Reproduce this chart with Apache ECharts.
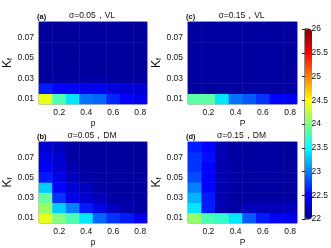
<!DOCTYPE html>
<html>
<head>
<meta charset="utf-8">
<script src="https://cdn.jsdelivr.net/npm/echarts@6/dist/echarts.min.js"></script>
<style>
html, body { margin: 0; padding: 0; background: #fff; }
#chart { width: 331px; height: 248px; }
</style>
</head>
<body>
<div id="chart"></div>
<script>
var pValues = ['0.1', '0.2', '0.3', '0.4', '0.5', '0.6', '0.7', '0.8'];
var kfValues = ['0.01', '0.02', '0.03', '0.04', '0.05', '0.06', '0.07', '0.08'];
var xTickLabels = ['0.2', '0.4', '0.6', '0.8'];
var yTickLabels = ['0.01', '0.03', '0.05', '0.07'];
var colorMin = 22, colorMax = 26, colorStep = 0.5;

var panelTags = ['(a)', '(c)', '(b)', '(d)'];
var panelTitles = ['σ=0.05，VL', 'σ=0.15，VL', 'σ=0.05，DM', 'σ=0.15，DM'];
var xNames = ['p', 'P', 'p', 'P'];

// rows: Kf = 0.01 ... 0.08, columns: p = 0.1 ... 0.8
var vlSigma005 = [
    [24.4, 23.8, 23.4, 22.95, 22.9, 22.65, 22.5, 22.4],
    [22.6, 22.5, 22.45, 22.4, 22.4, 22.35, 22.3, 22.3],
    [22.08, 22.08, 22.08, 22.1, 22.1, 22.08, 22.08, 22.08],
    [22.06, 22.06, 22.06, 22.06, 22.06, 22.06, 22.06, 22.06],
    [22.06, 22.06, 22.06, 22.06, 22.06, 22.06, 22.06, 22.06],
    [22.06, 22.06, 22.06, 22.06, 22.06, 22.06, 22.06, 22.06],
    [22.06, 22.06, 22.06, 22.06, 22.06, 22.06, 22.06, 22.06],
    [22.06, 22.06, 22.06, 22.06, 22.06, 22.06, 22.06, 22.06]
];
var vlSigma015 = [
    [23.85, 23.85, 23.4, 22.95, 22.85, 22.7, 22.5, 22.45],
    [22.08, 22.08, 22.08, 22.08, 22.08, 22.08, 22.08, 22.08],
    [22.08, 22.08, 22.08, 22.08, 22.08, 22.08, 22.08, 22.08],
    [22.08, 22.08, 22.08, 22.08, 22.08, 22.08, 22.08, 22.08],
    [22.08, 22.08, 22.08, 22.08, 22.08, 22.08, 22.08, 22.08],
    [22.08, 22.08, 22.08, 22.08, 22.08, 22.08, 22.08, 22.08],
    [22.08, 22.08, 22.08, 22.08, 22.08, 22.08, 22.08, 22.08],
    [22.08, 22.08, 22.08, 22.08, 22.08, 22.08, 22.08, 22.08]
];
var dmSigma005 = [
    [24.4, 24.0, 23.8, 23.4, 22.9, 22.7, 22.6, 22.4],
    [24.1, 23.3, 23.0, 22.6, 22.4, 22.2, 22.15, 22.1],
    [23.9, 22.7, 22.4, 22.3, 22.2, 22.1, 22.1, 22.08],
    [23.3, 22.5, 22.3, 22.2, 22.1, 22.08, 22.08, 22.06],
    [22.6, 22.4, 22.2, 22.1, 22.08, 22.06, 22.06, 22.06],
    [22.5, 22.3, 22.15, 22.08, 22.06, 22.06, 22.06, 22.06],
    [22.4, 22.3, 22.1, 22.06, 22.06, 22.06, 22.06, 22.06],
    [22.3, 22.2, 22.08, 22.06, 22.06, 22.06, 22.06, 22.06]
];
var dmSigma015 = [
    [24.1, 23.8, 23.7, 23.4, 22.85, 22.6, 22.5, 22.4],
    [23.4, 22.6, 22.15, 22.1, 22.2, 22.2, 22.2, 22.2],
    [23.2, 22.6, 22.15, 22.08, 22.08, 22.08, 22.08, 22.08],
    [23.0, 22.5, 22.15, 22.08, 22.08, 22.08, 22.08, 22.08],
    [22.8, 22.5, 22.15, 22.08, 22.08, 22.08, 22.08, 22.08],
    [22.7, 22.5, 22.15, 22.08, 22.08, 22.08, 22.08, 22.08],
    [22.7, 22.55, 22.15, 22.08, 22.08, 22.08, 22.08, 22.08],
    [22.6, 22.5, 22.15, 22.08, 22.08, 22.08, 22.08, 22.08]
];
var panelData = [vlSigma005, vlSigma015, dmSigma005, dmSigma015];

var jet = ['#00008f', '#0000ff', '#0080ff', '#00ffff', '#80ff80', '#ffff00', '#ff8000', '#ff0000', '#800000'];

var panelGrids = [
    { left: 39, top: 22, width: 108, height: 82 },
    { left: 188, top: 22, width: 109, height: 82 },
    { left: 39, top: 142, width: 108, height: 82 },
    { left: 188, top: 142, width: 109, height: 82 }
];
var barGrid = { left: 305, top: 29, width: 7, height: 190 };

var textColor = '#111';
var fontFamily = 'Liberation Sans';

function toCells(rows) {
    var out = [];
    for (var r = 0; r < rows.length; r++) {
        for (var c = 0; c < rows[r].length; c++) {
            out.push([c, r, rows[r][c]]);
        }
    }
    return out;
}

var grid = [], xAxis = [], yAxis = [], series = [], title = [];
for (var i = 0; i < 4; i++) {
    var g = panelGrids[i];
    grid.push({
        left: g.left, top: g.top, width: g.width, height: g.height,
        show: true, borderColor: '#8a8a5a', borderWidth: 1, backgroundColor: 'transparent'
    });
    xAxis.push({
        type: 'category', gridIndex: i, data: pValues,
        name: xNames[i], nameLocation: 'middle', nameGap: 15,
        nameTextStyle: { fontSize: 8.5, color: textColor, fontFamily: fontFamily },
        axisLine: { show: false },
        axisTick: {
            show: true, inside: true, length: 2, alignWithLabel: true,
            interval: function (idx, val) { return xTickLabels.indexOf(val) >= 0; },
            lineStyle: { color: '#222' }
        },
        axisLabel: {
            fontSize: 8.5, color: textColor, fontFamily: fontFamily, margin: 4,
            interval: function (idx, val) { return xTickLabels.indexOf(val) >= 0; }
        },
        splitLine: { show: false }
    });
    yAxis.push({
        type: 'category', gridIndex: i, data: kfValues,
        name: '{k|K}{f|f}', nameLocation: 'middle', nameGap: 25, nameRotate: 90,
        nameTextStyle: {
            color: textColor, fontFamily: fontFamily,
            rich: {
                k: { fontSize: 12, color: textColor, fontFamily: fontFamily },
                f: { fontSize: 7, color: textColor, fontFamily: fontFamily, padding: [5, 0, 0, 0] }
            }
        },
        axisLine: { show: false },
        axisTick: {
            show: true, inside: true, length: 2, alignWithLabel: true,
            interval: function (idx, val) { return yTickLabels.indexOf(val) >= 0; },
            lineStyle: { color: '#222' }
        },
        axisLabel: {
            fontSize: 8.5, color: textColor, fontFamily: fontFamily, margin: 5,
            interval: function (idx, val) { return yTickLabels.indexOf(val) >= 0; }
        },
        splitLine: { show: false }
    });
    series.push({
        type: 'heatmap', xAxisIndex: i, yAxisIndex: i,
        data: toCells(panelData[i]),
        itemStyle: { borderWidth: 0 },
        emphasis: { disabled: true }
    });
    title.push({
        text: panelTitles[i], left: g.left + g.width / 2 - 1, top: g.top - 11, textAlign: 'center',
        padding: 0,
        textStyle: { fontSize: 8.5, fontWeight: 'normal', color: textColor, fontFamily: fontFamily }
    });
    title.push({
        text: panelTags[i], left: g.left - 2, top: g.top - 9, padding: 0,
        textStyle: { fontSize: 7.5, fontWeight: 'bold', color: textColor, fontFamily: fontFamily }
    });
}

// colour bar axis
grid.push({
    left: barGrid.left, top: barGrid.top, width: barGrid.width, height: barGrid.height,
    show: true, borderColor: '#222', borderWidth: 1, backgroundColor: 'transparent'
});
xAxis.push({ type: 'value', gridIndex: 4, show: false, min: 0, max: 1 });
yAxis.push({
    type: 'value', gridIndex: 4, position: 'right',
    min: colorMin, max: colorMax, interval: colorStep,
    axisLine: { show: true, lineStyle: { color: '#222' } },
    axisTick: { show: true, inside: true, length: 3, lineStyle: { color: '#222' } },
    axisLabel: { fontSize: 8.5, color: textColor, fontFamily: fontFamily, margin: 2 },
    splitLine: { show: false }
});

var option = {
    backgroundColor: '#fff',
    animation: false,
    title: title,
    grid: grid,
    xAxis: xAxis,
    yAxis: yAxis,
    visualMap: {
        type: 'continuous', min: colorMin, max: colorMax,
        seriesIndex: [0, 1, 2, 3],
        calculable: false, hoverLink: false,
        left: barGrid.left, top: barGrid.top, padding: 0,
        itemWidth: barGrid.width, itemHeight: barGrid.height,
        inRange: { color: jet },
        textStyle: { fontSize: 1, color: 'transparent' }
    },
    series: series
};

var chart = echarts.init(document.getElementById('chart'));
chart.setOption(option);
</script>
</body>
</html>
